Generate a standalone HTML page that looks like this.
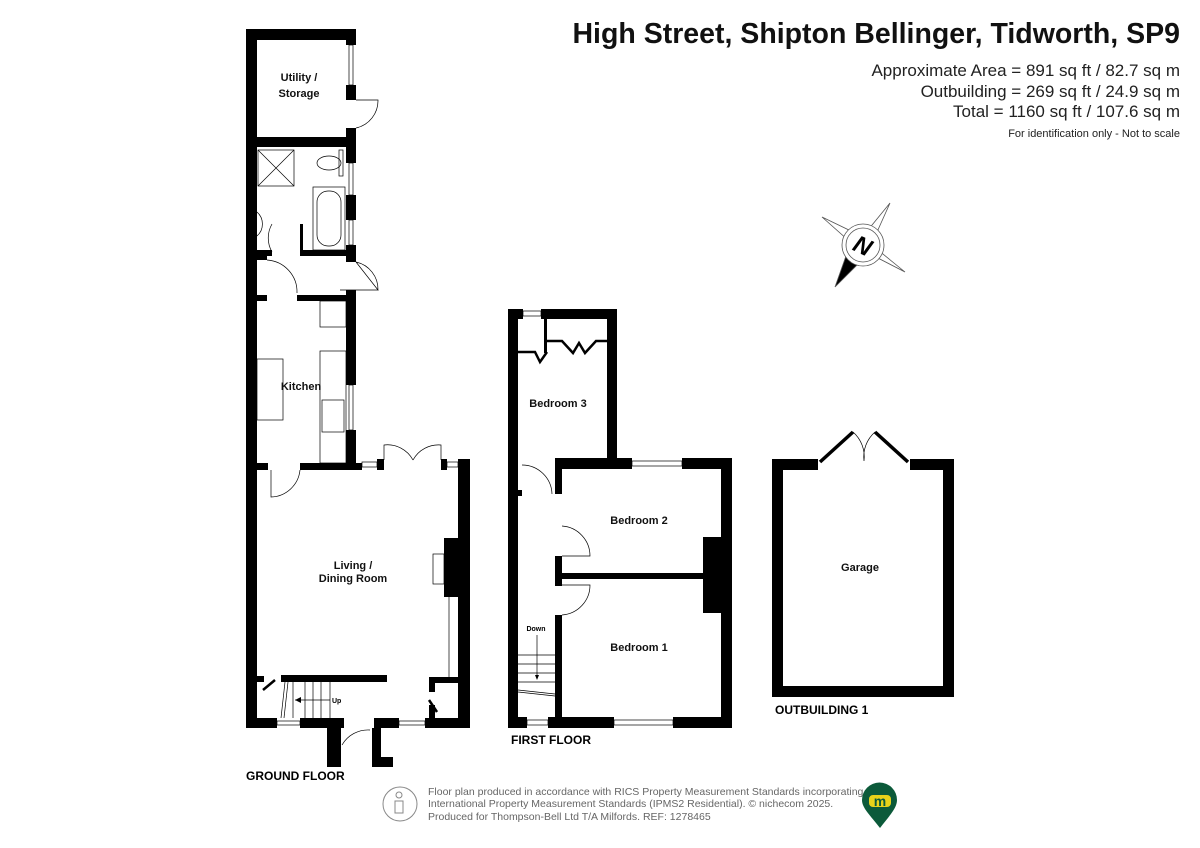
<!DOCTYPE html>
<html><head><meta charset="utf-8"><style>
html,body{margin:0;padding:0;background:#fff;}
svg{display:block;}
text{font-family:"Liberation Sans",Arial,sans-serif;}
.b{font-weight:bold;font-size:11px;fill:#111;}
</style></head><body>
<svg width="1200" height="848" viewBox="0 0 1200 848" xmlns="http://www.w3.org/2000/svg">
<rect width="1200" height="848" fill="#fff"/>
<!-- Header -->
<text x="1180" y="43" text-anchor="end" font-size="28.5" font-weight="bold" fill="#111">High Street, Shipton Bellinger, Tidworth, SP9</text>
<text x="1180" y="76" text-anchor="end" font-size="17" fill="#222">Approximate Area = 891 sq ft / 82.7 sq m</text>
<text x="1180" y="97" text-anchor="end" font-size="17" fill="#222">Outbuilding = 269 sq ft / 24.9 sq m</text>
<text x="1180" y="117" text-anchor="end" font-size="17" fill="#222">Total = 1160 sq ft / 107.6 sq m</text>
<text x="1180" y="137" text-anchor="end" font-size="11" fill="#222">For identification only - Not to scale</text>

<!-- Compass -->
<g stroke="#555" stroke-width="0.8" fill="#fff">
<polygon points="822,217 853,232 863,245 848,240"/>
<polygon points="890,203 877,232 863,245 868,230"/>
<polygon points="905,272 874,256 863,245 878,250"/>
<polygon points="835,287 846,256 863,245 860,262" fill="#000"/>
<circle cx="863" cy="245" r="21"/>
<circle cx="863" cy="245" r="17"/>
</g>
<text x="863" y="254" text-anchor="middle" font-size="24" font-weight="bold" font-style="italic" fill="#000" transform="rotate(25 863 245)">N</text>

<g fill="#000">
<!-- GROUND FLOOR walls -->
<rect x="246" y="29" width="11" height="699"/>
<rect x="246" y="29" width="110" height="11"/>
<rect x="346" y="29" width="10" height="16"/>
<rect x="346" y="85" width="10" height="15"/>
<rect x="346" y="128" width="10" height="35"/>
<rect x="346" y="195" width="10" height="25"/>
<rect x="346" y="245" width="10" height="17"/>
<rect x="346" y="290" width="10" height="95"/>
<rect x="346" y="430" width="10" height="40"/>
<rect x="256" y="137" width="90" height="10"/>
<rect x="256" y="250" width="16" height="6"/>
<rect x="300" y="250" width="46" height="6"/>
<rect x="300" y="224" width="3" height="30"/>
<rect x="256" y="256" width="11" height="4"/>
<rect x="256" y="295" width="11" height="6"/>
<rect x="297" y="295" width="49" height="6"/>
<rect x="256" y="463" width="12" height="7"/>
<rect x="300" y="463" width="62" height="7"/>
<rect x="377" y="459" width="7" height="11"/>
<rect x="441" y="459" width="6" height="11"/>
<rect x="458" y="459" width="12" height="269"/>
<rect x="444" y="538" width="14" height="59"/>
<rect x="246" y="718" width="31" height="10"/>
<rect x="300" y="718" width="44" height="10"/>
<rect x="374" y="718" width="25" height="10"/>
<rect x="425" y="718" width="45" height="10"/>
<rect x="327" y="728" width="14" height="39"/>
<rect x="372" y="728" width="9" height="39"/>
<rect x="372" y="757" width="21" height="10"/>
<rect x="281" y="675" width="106" height="7"/>
<rect x="256" y="676" width="8" height="6"/>
<rect x="429" y="677" width="29" height="6"/>
<rect x="429" y="677" width="6" height="15"/>
<rect x="429" y="705" width="6" height="13"/>

<!-- FIRST FLOOR walls -->
<rect x="508" y="309" width="10" height="419"/>
<rect x="508" y="309" width="15" height="10"/>
<rect x="541" y="309" width="76" height="10"/>
<rect x="607" y="309" width="10" height="155"/>
<rect x="555" y="458" width="77" height="11"/>
<rect x="682" y="458" width="50" height="11"/>
<rect x="721" y="458" width="11" height="270"/>
<rect x="703" y="537" width="18" height="76"/>
<rect x="555" y="458" width="7" height="36"/>
<rect x="555" y="556" width="7" height="30"/>
<rect x="555" y="615" width="7" height="105"/>
<rect x="562" y="573" width="141" height="6"/>
<rect x="518" y="490" width="4" height="6"/>
<rect x="508" y="717" width="19" height="11"/>
<rect x="548" y="717" width="66" height="11"/>
<rect x="673" y="717" width="59" height="11"/>
<rect x="544" y="319" width="3" height="34"/>

<!-- GARAGE -->
<rect x="772" y="459" width="11" height="238"/>
<rect x="772" y="459" width="46" height="11"/>
<rect x="910" y="459" width="44" height="11"/>
<rect x="943" y="459" width="11" height="238"/>
<rect x="772" y="686" width="182" height="11"/>
</g>

<g fill="none" stroke="#000" stroke-width="0.7">
<rect x="349" y="45" width="4" height="40"/><rect x="349" y="163" width="4" height="32"/><rect x="349" y="220" width="4" height="25"/><rect x="349" y="385" width="4" height="45"/>
<rect x="362" y="462" width="15" height="5"/><rect x="447" y="462" width="11" height="5"/>
<rect x="277" y="721" width="23" height="4"/><rect x="399" y="721" width="26" height="4"/>
<path d="M356 100 L378 100 A28 28 0 0 1 356 128"/>
<path d="M272 224 A28 28 0 0 0 272 252"/>
<path d="M356 262 L378 290 A28 28 0 0 0 356 262 M340 290 L378 290" />
<path d="M267 260 A32 32 0 0 1 297 293"/>
<path d="M271 470 L271 497 A30 30 0 0 0 300 470"/>
<path d="M384 460 L384 445 A29 29 0 0 1 413 460 M441 460 L441 445 A29 29 0 0 0 413 460"/>
<path d="M342 745 A30 30 0 0 1 370 730"/>
<rect x="258" y="150" width="36" height="36"/><path d="M258 150 L294 186 M294 150 L258 186"/>
<ellipse cx="329" cy="163" rx="12" ry="7"/><rect x="339" y="150" width="4" height="26"/>
<rect x="313" y="187" width="32" height="63"/><rect x="317" y="191" width="24" height="55" rx="11"/>
<path d="M257 212 A16 16 0 0 1 257 236"/>
<rect x="320" y="301" width="26" height="26"/>
<rect x="320" y="351" width="26" height="112"/>
<rect x="257" y="359" width="26" height="61"/>
<rect x="322" y="400" width="22" height="32"/>
<rect x="433" y="554" width="11" height="30"/>
<line x1="449" y1="597" x2="449" y2="677"/>
<line x1="293" y1="682" x2="293" y2="718"/><line x1="305" y1="682" x2="305" y2="718"/><line x1="313" y1="682" x2="313" y2="718"/><line x1="321" y1="682" x2="321" y2="718"/><line x1="330" y1="682" x2="330" y2="718"/>
<line x1="285" y1="682" x2="281" y2="718"/><line x1="288" y1="682" x2="284" y2="718"/>
<line x1="295" y1="700" x2="330" y2="700"/>
<rect x="523" y="311" width="18" height="5"/><rect x="632" y="461" width="50" height="5"/>
<rect x="527" y="720" width="21" height="5"/><rect x="614" y="720" width="59" height="5"/>
<path d="M522 465 A30 30 0 0 1 552 494"/>
<path d="M562 526 A30 30 0 0 1 590 556 L562 556"/>
<path d="M562 585 L590 585 A30 30 0 0 1 562 615"/>
<line x1="518" y1="655" x2="555" y2="655"/><line x1="518" y1="664" x2="555" y2="664"/><line x1="518" y1="673" x2="555" y2="673"/><line x1="518" y1="682" x2="555" y2="682"/>
<line x1="518" y1="690" x2="555" y2="694"/><line x1="518" y1="692" x2="555" y2="696"/>
<line x1="537" y1="635" x2="537" y2="676"/>
<path d="M853 432 A33 33 0 0 1 864 461 M875 432 A33 33 0 0 0 864 461"/>
</g>
<g stroke="#000" stroke-width="2.5" fill="none">
<path d="M518 352 L535 352 L540 362 L547 352"/>
<path d="M547 341 L562 341 L573 353 L579 343 L585 353 L596 341 L607 341"/>
<path d="M263 690 L275 680"/>
<path d="M429 700 L437 712"/>
</g>
<g stroke="#000" stroke-width="3.5">
<line x1="820" y1="462" x2="853" y2="432"/><line x1="908" y1="462" x2="875" y2="432"/>
</g>
<polygon points="295,700 301,697 301,703" fill="#000"/>
<polygon points="537,680 535,675 539,675" fill="#000"/>

<text class="b" x="299" y="81" text-anchor="middle">Utility /</text>
<text class="b" x="299" y="97" text-anchor="middle">Storage</text>
<text class="b" x="301" y="390" text-anchor="middle">Kitchen</text>
<text class="b" x="353" y="569" text-anchor="middle">Living /</text>
<text class="b" x="353" y="582" text-anchor="middle">Dining Room</text>
<text x="332" y="703" font-size="7" font-weight="bold">Up</text>
<text x="246" y="780" font-size="12" font-weight="bold">GROUND FLOOR</text>
<text class="b" x="558" y="407" text-anchor="middle">Bedroom 3</text>
<text class="b" x="639" y="524" text-anchor="middle">Bedroom 2</text>
<text class="b" x="639" y="651" text-anchor="middle">Bedroom 1</text>
<text x="536" y="631" font-size="7" font-weight="bold" text-anchor="middle">Down</text>
<text x="511" y="744" font-size="12" font-weight="bold">FIRST FLOOR</text>
<text class="b" x="860" y="571" text-anchor="middle">Garage</text>
<text x="775" y="714" font-size="12" font-weight="bold">OUTBUILDING 1</text>

<g stroke="#888" fill="none" stroke-width="1">
<circle cx="400" cy="804" r="17"/>
<circle cx="399" cy="795" r="3"/>
<path d="M395 801 L403 801 L403 813 L395 813 Z"/>
</g>
<text x="428" y="795" font-size="10.5" fill="#666">Floor plan produced in accordance with RICS Property Measurement Standards incorporating</text>
<text x="428" y="807" font-size="10.5" fill="#666">International Property Measurement Standards (IPMS2 Residential).   © nichecom 2025.</text>
<text x="428" y="820" font-size="10.5" fill="#666">Produced for Thompson-Bell Ltd T/A Milfords.   REF: 1278465</text>
<path d="M880 828 C870 815 862 808 862 800 A17 17 0 0 1 897 800 C897 808 890 815 880 828 Z" fill="#0c5a3a"/>
<rect x="869" y="795" width="22" height="12" rx="4" fill="#e8d21a"/>
<text x="880" y="806" font-size="14" font-weight="bold" fill="#0c5a3a" text-anchor="middle">m</text>
</svg>
</body></html>
